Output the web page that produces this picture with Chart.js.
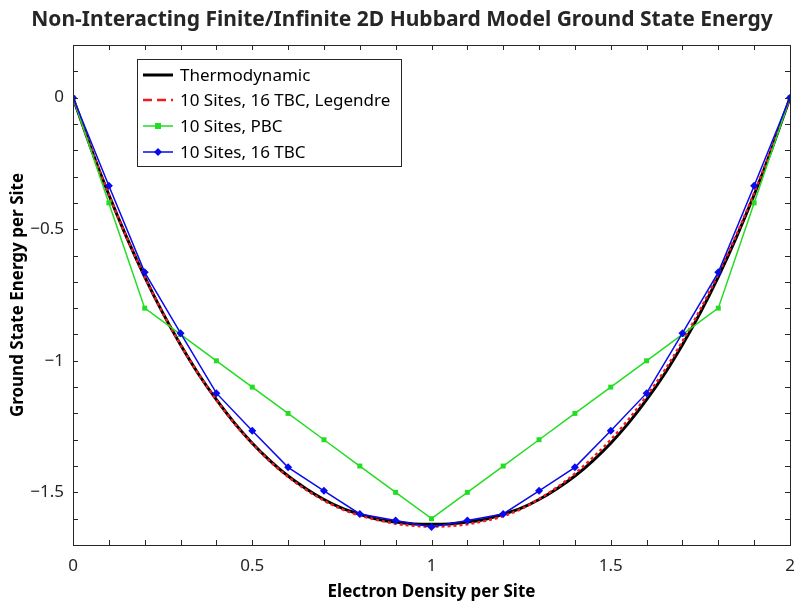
<!DOCTYPE html>
<html>
<head>
<meta charset="utf-8">
<script src="https://cdn.jsdelivr.net/npm/chart.js@4/dist/chart.umd.min.js"></script>
<style>
  html, body { margin: 0; padding: 0; background: #fff; }
</style>
</head>
<body>
<canvas id="chart" width="795" height="603"></canvas>
<script>
// === DATA ===
const densCoarse = [0, 0.1, 0.2, 0.3, 0.4, 0.5, 0.6, 0.7, 0.8, 0.9, 1.0,
  1.1, 1.2, 1.3, 1.4, 1.5, 1.6, 1.7, 1.8, 1.9, 2.0];
const pbcE = [0, -0.4, -0.8, -0.9, -1.0, -1.1, -1.2, -1.3, -1.4, -1.5, -1.6,
  -1.5, -1.4, -1.3, -1.2, -1.1, -1.0, -0.9, -0.8, -0.4, 0];
const tbcE = [0, -0.335, -0.664, -0.895, -1.123, -1.266, -1.405, -1.494, -1.582, -1.607, -1.632,
  -1.607, -1.582, -1.494, -1.405, -1.266, -1.123, -0.895, -0.664, -0.335, 0];

const densFine = [0, 0.05, 0.1, 0.15, 0.2, 0.25, 0.3, 0.35, 0.4, 0.45, 0.5,
  0.55, 0.6, 0.65, 0.7, 0.75, 0.8, 0.85, 0.9, 0.95, 1.0,
  1.05, 1.1, 1.15, 1.2, 1.25, 1.3, 1.35, 1.4, 1.45, 1.5,
  1.55, 1.6, 1.65, 1.7, 1.75, 1.8, 1.85, 1.9, 1.95, 2.0];
const thermoE = [0, -0.192, -0.369, -0.532, -0.681, -0.817, -0.939, -1.050, -1.148, -1.236, -1.313,
  -1.380, -1.438, -1.486, -1.527, -1.560, -1.583, -1.602, -1.613, -1.620, -1.621,
  -1.620, -1.613, -1.602, -1.583, -1.560, -1.527, -1.486, -1.438, -1.380, -1.313,
  -1.236, -1.148, -1.050, -0.939, -0.817, -0.681, -0.532, -0.369, -0.192, 0];
const legendreE = [0, -0.192, -0.369, -0.532, -0.681, -0.817, -0.939, -1.050, -1.149, -1.238, -1.315,
  -1.383, -1.441, -1.490, -1.531, -1.564, -1.588, -1.605, -1.619, -1.627, -1.630,
  -1.628, -1.621, -1.608, -1.590, -1.563, -1.525, -1.481, -1.429, -1.368, -1.300,
  -1.222, -1.134, -1.037, -0.926, -0.804, -0.670, -0.523, -0.362, -0.188, 0];

const seriesNames = ["Thermodynamic", "10 Sites, 16 TBC, Legendre", "10 Sites, PBC", "10 Sites, 16 TBC"];
const xTickLabels = [0, 0.5, 1, 1.5, 2];
const yTickLabels = [0, -0.5, -1, -1.5];

const FONT = "'Noto Sans', 'DejaVu Sans', sans-serif";
const INK = "#262626";
const GREEN = "#22dd22";
const BLUE = "#0a0aee";
const RED = "#ee1c1c";

const pts = (xs, ys) => xs.map((x, i) => ({x, y: ys[i]}));
const fmt = v => (v < 0 ? "\u2212" : "") + Math.abs(v);

// === FRAME, TICKS, TITLE, LEGEND ===
const decor = {
  id: "decor",
  afterDraw(chart) {
    const ctx = chart.ctx;
    const {left, right, top, bottom} = chart.chartArea;
    const sx = chart.scales.x, sy = chart.scales.y;
    ctx.save();
    ctx.strokeStyle = INK;
    ctx.lineWidth = 1;
    ctx.strokeRect(left + 0.5, top + 0.5, right - left, bottom - top);

    // inward ticks every 0.1
    const tl = 5;
    ctx.beginPath();
    for (let i = 0; i <= 20; i++) {
      const px = Math.round(sx.getPixelForValue(i / 10)) + 0.5;
      ctx.moveTo(px, bottom); ctx.lineTo(px, bottom - tl);
      ctx.moveTo(px, top); ctx.lineTo(px, top + tl);
    }
    for (let i = -17; i <= 2; i++) {
      const py = Math.round(sy.getPixelForValue(i / 10)) + 0.5;
      ctx.moveTo(left, py); ctx.lineTo(left + tl, py);
      ctx.moveTo(right, py); ctx.lineTo(right - tl, py);
    }
    ctx.stroke();

    // title
    ctx.fillStyle = INK;
    ctx.font = "bold 21px " + FONT;
    ctx.textAlign = "center";
    ctx.textBaseline = "middle";
    ctx.fillText("Non-Interacting Finite/Infinite 2D Hubbard Model Ground State Energy", 402, 20);

    // legend
    const bx = 137, by = 59, bw = 264, bh = 107;
    ctx.fillStyle = "#fff";
    ctx.fillRect(bx, by, bw, bh);
    ctx.strokeStyle = INK;
    ctx.strokeRect(bx + 0.5, by + 0.5, bw, bh);
    const rows = [75, 100, 126, 152];
    const styles = [
      {c: "#000", w: 3, dash: []},
      {c: RED, w: 2.5, dash: [9, 5]},
      {c: GREEN, w: 1.5, dash: [], mark: "sq"},
      {c: BLUE, w: 1.5, dash: [], mark: "dia"}
    ];
    ctx.font = "17px " + FONT;
    ctx.textAlign = "left";
    rows.forEach((y, i) => {
      const s = styles[i];
      ctx.strokeStyle = s.c;
      ctx.lineWidth = s.w;
      ctx.setLineDash(s.dash);
      ctx.beginPath();
      ctx.moveTo(143, y); ctx.lineTo(173, y);
      ctx.stroke();
      ctx.setLineDash([]);
      ctx.fillStyle = s.c;
      if (s.mark === "sq") ctx.fillRect(155, y - 3, 6, 6);
      if (s.mark === "dia") {
        ctx.beginPath();
        ctx.moveTo(158, y - 4); ctx.lineTo(162, y); ctx.lineTo(158, y + 4); ctx.lineTo(154, y);
        ctx.closePath(); ctx.fill();
      }
      ctx.fillStyle = "#000";
      ctx.fillText(seriesNames[i], 180, y + 1);
    });
    ctx.restore();
  }
};

// === CHART ===
new Chart(document.getElementById("chart"), {
  type: "line",
  data: {
    datasets: [
      {
        label: seriesNames[0],
        data: pts(densFine, thermoE),
        borderColor: "#000",
        borderWidth: 3,
        pointRadius: 0,
        cubicInterpolationMode: "monotone",
        order: 4
      },
      {
        label: seriesNames[1],
        data: pts(densFine, legendreE),
        borderColor: RED,
        borderWidth: 2.5,
        borderDash: [3, 3],
        pointRadius: 0,
        cubicInterpolationMode: "monotone",
        order: 3
      },
      {
        label: seriesNames[2],
        data: pts(densCoarse, pbcE),
        borderColor: GREEN,
        backgroundColor: GREEN,
        borderWidth: 1.5,
        pointStyle: "rect",
        pointRadius: 3.5,
        pointBorderWidth: 0,
        order: 2
      },
      {
        label: seriesNames[3],
        data: pts(densCoarse, tbcE),
        borderColor: BLUE,
        backgroundColor: BLUE,
        borderWidth: 1.5,
        pointStyle: "rectRot",
        pointRadius: 4,
        pointBorderWidth: 0,
        order: 1
      }
    ]
  },
  options: {
    responsive: false,
    animation: false,
    layout: {padding: {top: 45, right: 5, left: 0, bottom: 0}},
    plugins: {legend: {display: false}, tooltip: {enabled: false}},
    scales: {
      x: {
        type: "linear",
        min: 0, max: 2,
        afterFit: s => { s.height = 58; s.paddingLeft = 0; s.paddingRight = 0; },
        grid: {display: false, drawTicks: false},
        border: {display: false},
        ticks: {
          stepSize: 0.5,
          padding: 11,
          color: INK,
          font: {family: FONT, size: 17},
          maxRotation: 0,
          callback: v => xTickLabels.includes(v) ? fmt(v) : ""
        },
        title: {
          display: true,
          text: "Electron Density per Site",
          color: "#000",
          font: {family: FONT, size: 17, weight: "bold"},
          padding: {top: 0, bottom: 1}
        }
      },
      y: {
        type: "linear",
        min: -1.7, max: 0.2,
        afterFit: s => { s.width = 73; s.paddingTop = 0; s.paddingBottom = 0; },
        grid: {display: false, drawTicks: false},
        border: {display: false},
        ticks: {
          stepSize: 0.1,
          padding: 9,
          color: INK,
          font: {family: FONT, size: 17},
          callback: v => {
            const r = Math.round(v * 10) / 10;
            return yTickLabels.includes(r) ? fmt(r) : "";
          }
        },
        title: {
          display: true,
          text: "Ground State Energy per Site",
          color: "#000",
          font: {family: FONT, size: 17, weight: "bold"},
          padding: {top: 8, bottom: 0}
        }
      }
    }
  },
  plugins: [decor]
});
</script>
</body>
</html>
